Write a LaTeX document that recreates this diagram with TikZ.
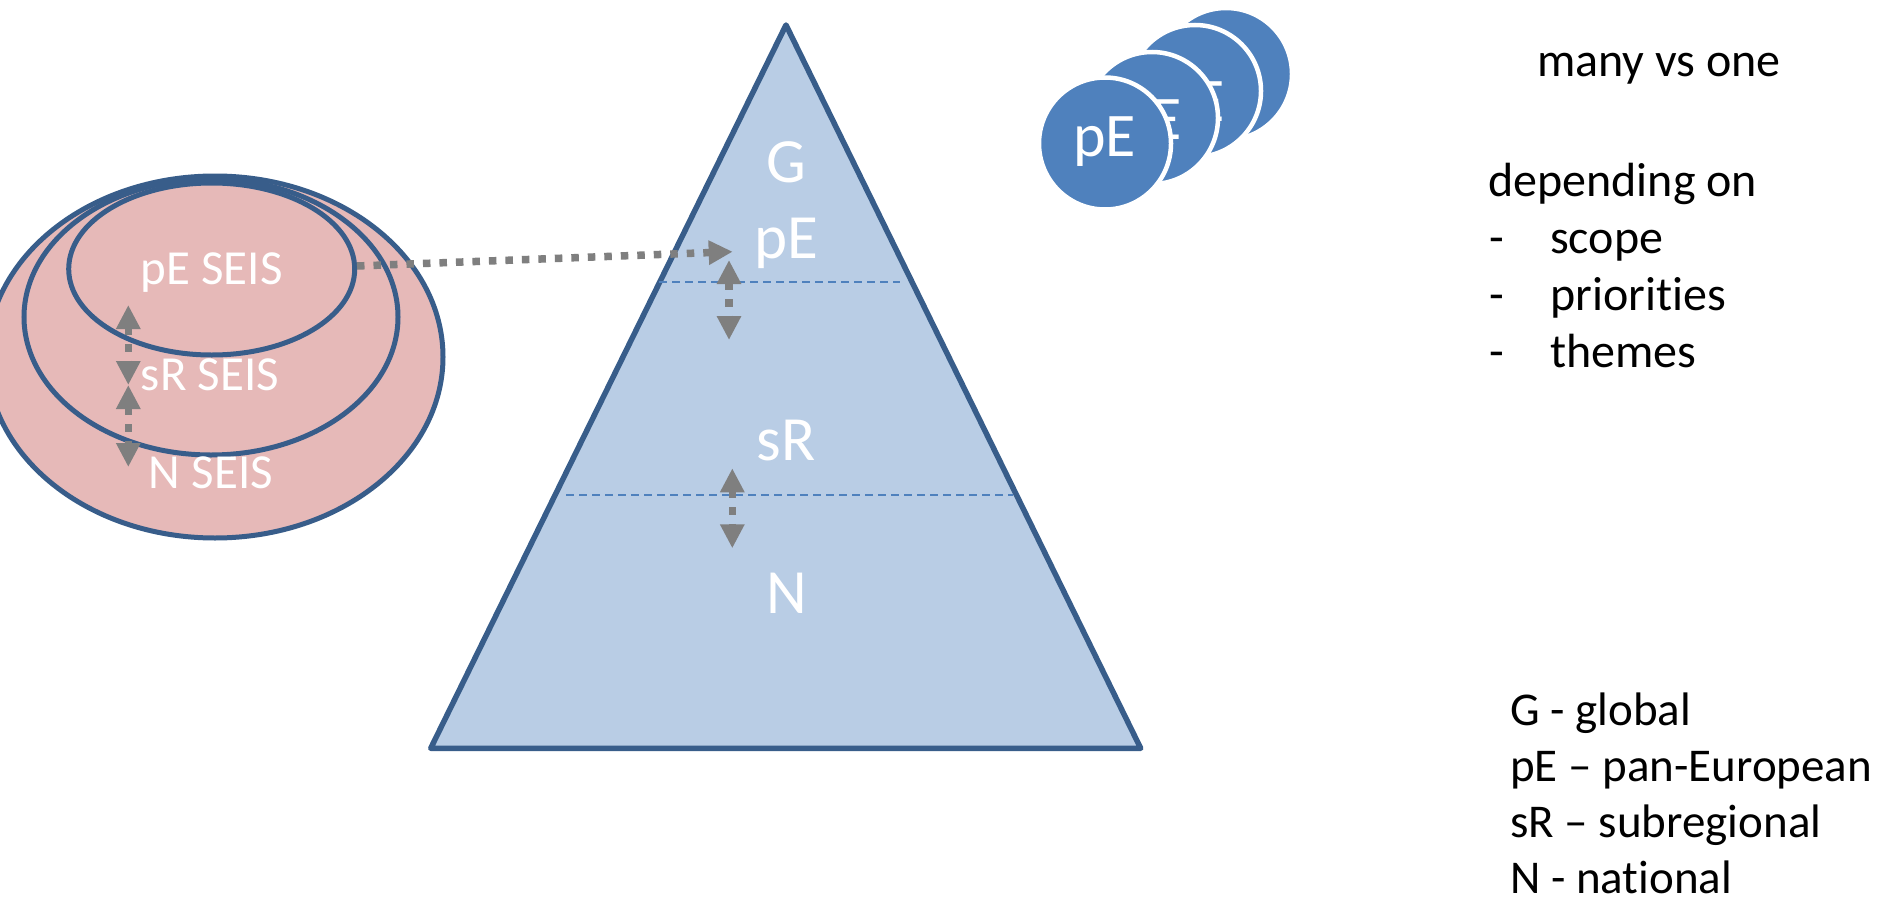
\documentclass[tikz,border=0pt]{standalone}
\usepackage{fontspec}
\setmainfont{Carlito}[Ligatures=NoCommon]
\usetikzlibrary{arrows.meta,shapes.geometric}
\definecolor{edgeblue}{HTML}{385D8A}
\definecolor{trifill}{HTML}{B9CDE5}
\definecolor{pinkfill}{HTML}{E6B9B8}
\definecolor{accent}{HTML}{4F81BD}
\definecolor{arrowgray}{HTML}{7F7F7F}
\newcommand{\fs}[1]{\fontsize{#1}{#1}\selectfont}
\tikzset{
  ell/.style={ellipse, draw=edgeblue, fill=pinkfill, line width=5pt, inner sep=0pt},
  disc/.style={circle, draw=white, fill=accent, line width=4.5pt, inner sep=0pt, minimum size=132pt},
  wlabel/.style={text=white, anchor=base, inner sep=0pt},
  blabel/.style={text=black, anchor=base west, inner sep=0pt, font=\fs{48}},
  llabel/.style={text=black, anchor=base west, inner sep=0pt, font=\fs{47}},
  gdot/.style={draw=arrowgray, line width=7.5pt, dash pattern=on 7.5pt off 9pt,
    arrows={Triangle[length=24pt,width=23pt]-Triangle[length=24pt,width=23pt]}},
  gdotone/.style={draw=arrowgray, line width=7.5pt, dash pattern=on 7.5pt off 9pt,
    arrows={-Triangle[length=24pt,width=23pt]}},
  level/.style={draw=accent, line width=2pt, dash pattern=on 8pt off 5pt}
}
\begin{document}
\begin{tikzpicture}[x=1pt,y=-1pt]
\clip (0,0) rectangle (1895,902);
\fill[white] (0,0) rectangle (1895,902);

% triangle
\coordinate (apex) at (786,25);
\coordinate (bl) at (430.7,748.3);
\coordinate (br) at (1140.7,748.3);
\draw[edgeblue, fill=trifill, line width=5.5pt, line join=round] (apex) -- (bl) -- (br) -- cycle;
\coordinate (d1a) at (659,281.7);
\coordinate (d1b) at (900,281.7);
\coordinate (d2a) at (566,495);
\coordinate (d2b) at (1013,495);
\draw[level] (d1a) -- (d1b);
\draw[level] (d2a) -- (d2b);

\node[wlabel, font=\fs{63}] (tG) at (786,182) {G};
\node[wlabel, font=\fs{63}] (tpE) at (786,258.3) {pE};
\node[wlabel, font=\fs{63}] (tsR) at (786,460) {sR};
\node[wlabel, font=\fs{63}] (tN) at (787,613) {N};

% nested ellipses
\node[ell, minimum width=456pt, minimum height=362pt] (e3) at (215,357) {};
\node[ell, minimum width=374pt, minimum height=276pt] (e2) at (211,317) {};
\node[ell, minimum width=286pt, minimum height=172pt] (e1) at (211.7,269) {};
\node[wlabel, font=\fs{49}] (lpE) at (211.7,284) {pE SEIS};
\node[wlabel, font=\fs{49}] (lsR) at (210,390) {sR SEIS};
\node[wlabel, font=\fs{49}] (lN) at (211,488) {N SEIS};

% arrows
\coordinate (a1t) at (128.3,305);
\coordinate (a1b) at (128.3,385);
\coordinate (a2t) at (128.3,385);
\coordinate (a2b) at (128.3,467);
\draw[gdot] (a1t) -- (a1b);
\draw[gdot] (a2t) -- (a2b);
\coordinate (hs) at (357,266);
\coordinate (he) at (732.7,251.7);
\draw[gdotone] (hs) -- (he);
\coordinate (b1t) at (729,260);
\coordinate (b1b) at (729,340);
\coordinate (b2t) at (732.3,468.3);
\coordinate (b2b) at (732.3,548.3);
\draw[gdot] (b1t) -- (b1b);
\draw[gdot] (b2t) -- (b2b);

% stacked circles
\node[disc] (c4) at (1226,74) {};
\node[disc] (c3) at (1195,91) {};
\node[wlabel, font=\fs{62}] (t3) at (1193,121) {pE};
\node[disc] (c2) at (1152,118) {};
\node[wlabel, font=\fs{62}] (t2) at (1150,139) {pE};
\node[disc] (c1) at (1105,143.5) {};
\node[wlabel, font=\fs{62}] (t1) at (1104.5,156.7) {pE};

% right texts
\node[blabel, anchor=base] (many) at (1659,76.7) {many vs one};
\node[blabel] (dep) at (1488,196.5) {depending on};
\node[blabel] (m1) at (1489,253.5) {-};
\node[blabel] (s1) at (1550,253.5) {scope};
\node[blabel] (m2) at (1489,310.5) {-};
\node[blabel] (s2) at (1550,310.5) {priorities};
\node[blabel] (m3) at (1489,367.5) {-};
\node[blabel] (s3) at (1550,367.5) {themes};

\node[llabel] (lg) at (1510,725) {G - global};
\node[llabel] (lp) at (1510,781.7) {pE – pan-European};
\node[llabel] (ls) at (1510,837.5) {sR – subregional};
\node[llabel] (ln) at (1510,893.5) {N - national};
\end{tikzpicture}
\end{document}
